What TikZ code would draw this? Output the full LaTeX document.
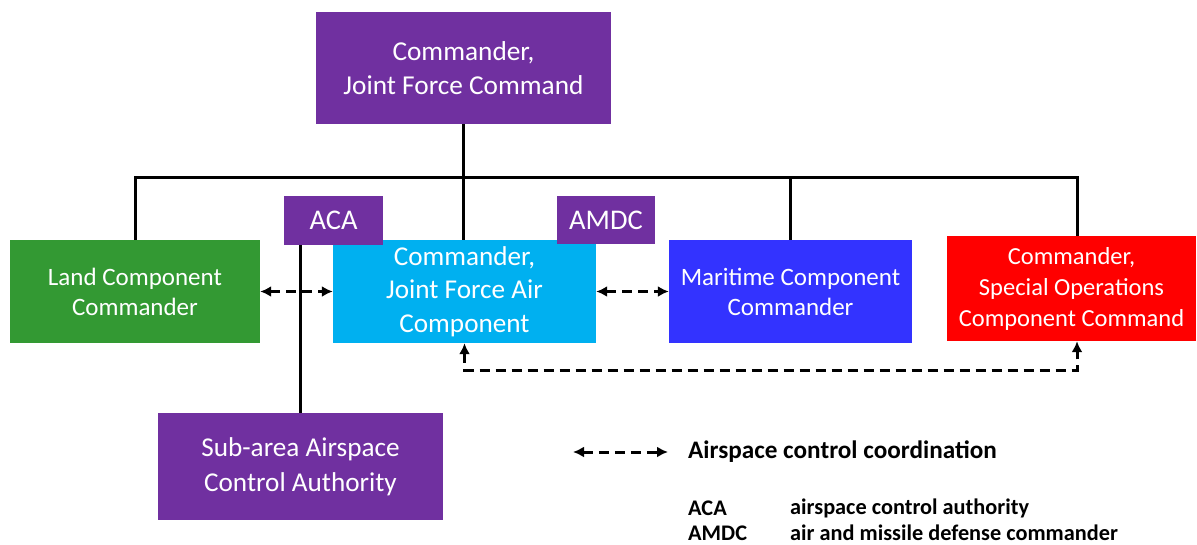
\documentclass[tikz,border=0pt]{standalone}
\usepackage{fontspec}
\usetikzlibrary{arrows.meta}
\setmainfont{Carlito}
\definecolor{cmdpurple}{HTML}{7030A0}
\definecolor{landgreen}{HTML}{339933}
\definecolor{aircyan}{HTML}{00B0F0}
\definecolor{seablue}{HTML}{3333FF}
\definecolor{sofred}{HTML}{FF0000}
\tikzset{
  unitbox/.style={inner sep=0pt, text=white, align=center,
    font=\fontsize{25}{30}\selectfont},
  bigunit/.style={unitbox, font=\fontsize{27.3}{34}\selectfont},
  tagbox/.style={inner sep=0pt, text=white, fill=cmdpurple,
    font=\fontsize{28.5}{34}\selectfont},
  cmdline/.style={line width=3pt},
  coordline/.style={{Latex[length=11pt,width=11pt]}-{Latex[length=11pt,width=11pt]},
    line width=3pt, dash pattern=on 10pt off 6pt},
  legendtxt/.style={anchor=west, inner sep=0pt, font=\bfseries\fontsize{22.3}{25}\selectfont}
}
\begin{document}
\begin{tikzpicture}[x=1pt, y=-1pt]
    \useasboundingbox (0,0) rectangle (1197,544);

    % Kaestchen
    \node[bigunit, fill=cmdpurple, minimum width=295, minimum height=112] (jfc) at (463.5,68)
        {Commander,\\Joint Force Command};
    \node[unitbox, fill=landgreen, minimum width=250, minimum height=103] (lcc) at (135,291.5)
        {Land Component\\Commander};
    \node[bigunit, fill=aircyan, minimum width=263, minimum height=103,
        font=\fontsize{27.2}{33.5}\selectfont] (jfacc) at (464.5,291.5)
        {Commander,\\Joint Force Air\\Component};
    \node[unitbox, fill=seablue, minimum width=243, minimum height=103] (mcc) at (790.5,291.5)
        {Maritime Component\\Commander};
    \node[unitbox, fill=sofred, minimum width=249, minimum height=105,
        font=\fontsize{24.5}{31}\selectfont] (socc) at (1071.5,288.5)
        {Commander,\\Special Operations\\Component Command};
    \node[bigunit, fill=cmdpurple, minimum width=285, minimum height=107,
        font=\fontsize{27.2}{35}\selectfont] (saca) at (300.5,466.5)
        {Sub-area Airspace\\Control Authority};
    \node[tagbox, minimum width=99, minimum height=49] (aca) at (333.5,220.5) {ACA};
    \node[tagbox, minimum width=98, minimum height=48] (amdc) at (606,220) {AMDC};

    % Befehlslinien
    \coordinate (busL) at (134,177);
    \coordinate (busR) at (1077,177);
    \draw[cmdline] (lcc.north) -- (lcc.north |- busL) -- (busR) -- (busR |- socc.north);
    \draw[cmdline] (jfc.south) -- (jfc.south |- jfacc.north);
    \draw[cmdline] (mcc.north |- busL) -- (mcc.north);
    \draw[cmdline] (saca.north) -- (saca.north |- aca.south);

    % Luftraumkoordination
    \draw[coordline] (lcc.east) -- (jfacc.west);
    \draw[coordline] (jfacc.east) -- (mcc.west);
    \coordinate (ret) at (1077,370);
    \draw[coordline] (jfacc.south) |- (ret) -- (ret |- socc.south);

    % Legende
    \coordinate (legA) at (573,452);
    \node[legendtxt, font=\bfseries\fontsize{25.2}{28}\selectfont] (legtxt) at (688,452)
        {Airspace control coordination};
    \draw[coordline] (legA) -- ([xshift=-20]legtxt.west);
    \node[legendtxt] (abbA) at (688,508) {ACA};
    \node[legendtxt] (defA) at (790,508) {airspace control authority};
    \node[legendtxt] (abbB) at (688,533) {AMDC};
    \node[legendtxt] (defB) at (790,533) {air and missile defense commander};
\end{tikzpicture}
\end{document}
